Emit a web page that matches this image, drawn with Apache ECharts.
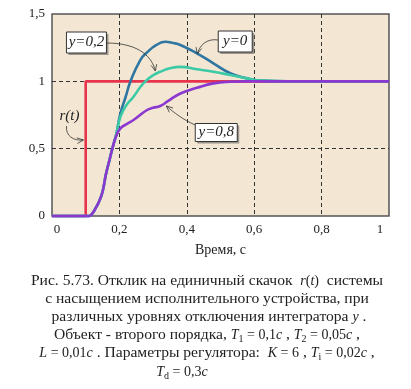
<!DOCTYPE html>
<html><head><meta charset="utf-8">
<script src="https://cdn.jsdelivr.net/npm/echarts@6/dist/echarts.min.js"></script>
<style>html,body{margin:0;padding:0;background:#fff}#c{width:411px;height:389px}</style>
</head><body><div id="c"></div>
<script>
// ---- data ----
const xTicks = [0, 0.2, 0.4, 0.6, 0.8, 1];
const yTicks = [0, 0.5, 1, 1.5];
// reference step r(t)
const rT = [0, 0.1, 0.1, 1];
const rV = [0, 0, 1, 1];
// y = 0
const t0 = [0, 0.11, 0.12, 0.13, 0.14, 0.15, 0.16, 0.17, 0.18, 0.19, 0.203, 0.218, 0.233, 0.262, 0.282, 0.31, 0.336, 0.36, 0.381, 0.43, 0.479, 0.529, 0.578, 0.62, 0.7, 1.0];
const v0 = [0, 0, 0.02, 0.06, 0.11, 0.18, 0.31, 0.41, 0.51, 0.60, 0.762, 0.88, 1.0, 1.158, 1.215, 1.27, 1.294, 1.285, 1.27, 1.208, 1.134, 1.06, 1.022, 1.005, 1.0, 1.0];
// y = 0,2
const t02 = [0, 0.11, 0.12, 0.13, 0.14, 0.15, 0.16, 0.17, 0.18, 0.19, 0.203, 0.22, 0.242, 0.26, 0.277, 0.3, 0.321, 0.35, 0.381, 0.43, 0.479, 0.529, 0.578, 0.62, 0.7, 1.0];
const v02 = [0, 0, 0.02, 0.06, 0.11, 0.18, 0.31, 0.41, 0.51, 0.60, 0.737, 0.82, 0.886, 0.95, 1.0, 1.045, 1.071, 1.097, 1.107, 1.09, 1.071, 1.047, 1.022, 1.005, 1.0, 1.0];
// y = 0,8
const t08 = [0, 0.11, 0.12, 0.13, 0.14, 0.15, 0.16, 0.17, 0.18, 0.19, 0.203, 0.22, 0.242, 0.282, 0.3, 0.321, 0.345, 0.381, 0.43, 0.479, 0.529, 0.578, 0.7, 1.0];
const v08 = [0, 0, 0.02, 0.06, 0.11, 0.18, 0.31, 0.41, 0.51, 0.59, 0.651, 0.68, 0.713, 0.787, 0.803, 0.817, 0.855, 0.91, 0.952, 0.985, 0.997, 1.0, 1.0, 1.0];

const labelY0 = 'y=0', labelY02 = 'y=0,2', labelY08 = 'y=0,8', labelR = 'r(t)';
const xName = 'Время, с';

const zip = (a, b) => a.map((x, i) => [x, b[i]]);
const fmt = v => String(+v.toFixed(2)).replace('.', ',');
const serif = '"Liberation Serif", "DejaVu Serif", serif';

const chart = echarts.init(document.getElementById('c'), null, {renderer: 'canvas'});
const lineSeries = (name, data, color, extra) => Object.assign({
  type: 'line', name, data, symbol: 'none', clip: false,
  smooth: true,
  lineStyle: {color, width: 2.6}, emphasis: {disabled: true}
}, extra || {});

chart.setOption({
  animation: false,
  backgroundColor: '#fff',
  grid: {left: 52, right: 22, top: 14, height: 202, containLabel: false,
    show: true, backgroundColor: '#f3e7d3', borderColor: '#555', borderWidth: 1.5},
  xAxis: {
    type: 'value', min: 0, max: 1, interval: 0.2,
    name: xName, nameLocation: 'middle', nameGap: 27,
    nameTextStyle: {fontFamily: serif, fontSize: 14, color: '#222'},
    axisLine: {show: false}, axisTick: {show: false},
    axisLabel: {margin: 7, fontFamily: serif, fontSize: 13, color: '#222',
      formatter: v => v === 0 ? '{l|0}' : (v === 1 ? '{r|1}' : fmt(v)),
      rich: {l: {fontFamily: serif, fontSize: 13, color: '#222', padding: [0, 0, 0, 10]},
             r: {fontFamily: serif, fontSize: 13, color: '#222', padding: [0, 18, 0, 0]}}},
    splitLine: {show: true, showMinLine: false, showMaxLine: false,
      lineStyle: {type: [4, 3], color: '#333', width: 1}}
  },
  yAxis: {
    type: 'value', min: 0, max: 1.5, interval: 0.5,
    axisLine: {show: false}, axisTick: {show: false},
    axisLabel: {margin: 7, fontFamily: serif, fontSize: 13, color: '#222', formatter: fmt},
    splitLine: {show: true, showMinLine: false, showMaxLine: false,
      lineStyle: {type: [4, 3], color: '#333', width: 1}}
  },
  series: [
    lineSeries('r', zip(rT, rV), '#e8334c', {smooth: false}),
    lineSeries('y0', zip(t0, v0), '#2f76a2'),
    lineSeries('y02', zip(t02, v02), '#3ccaa6'),
    lineSeries('y08', zip(t08, v08), '#8a38cf')
  ]
});

// ---- annotations (data coordinates) ----
const boxes = [
  {text: labelY02, at: [0.1022, 1.2883], w: 40, h: 21},
  {text: labelY0, at: [0.5437, 1.2957], w: 34, h: 21},
  {text: labelY08, at: [0.4874, 0.62], w: 42, h: 18}
];
const arrows = [
  [[0.1615, 1.2846], [0.2622, 1.2846], [0.2978, 1.1732], [0.3067, 1.0767]],
  [[0.4933, 1.3069], [0.4578, 1.3217], [0.4370, 1.2623], [0.4311, 1.2029]],
  [[0.4252, 0.6757], [0.3896, 0.7129], [0.36, 0.7723], [0.3393, 0.8168]],
  [[0.043, 0.6683], [0.04, 0.594], [0.0637, 0.5569], [0.0933, 0.5643]]
];
const P = p => chart.convertToPixel({gridIndex: 0}, p);
const g = [];
boxes.forEach(b => {
  const c = P(b.at);
  const x = c[0] - b.w / 2, y = c[1] - b.h / 2;
  g.push({type: 'rect', shape: {x: x + 2, y: y + 2, width: b.w, height: b.h}, style: {fill: '#9a948c'}, z: 100, silent: true});
  g.push({type: 'rect', shape: {x, y, width: b.w, height: b.h}, style: {fill: '#fff', stroke: '#333', lineWidth: 1}, z: 101, silent: true});
  g.push({type: 'text', x: c[0], y: c[1], style: {text: b.text, fontFamily: serif, fontStyle: 'italic', fontSize: 15, fill: '#222', align: 'center', verticalAlign: 'middle'}, z: 102, silent: true});
});
arrows.forEach(a => {
  const [s, c1, c2, e] = a.map(P);
  const ang = Math.atan2(e[1] - c2[1], e[0] - c2[0]);
  const L = 7, da = 0.42;
  const p1 = [e[0] - L * Math.cos(ang - da), e[1] - L * Math.sin(ang - da)];
  const p2 = [e[0] - L * Math.cos(ang + da), e[1] - L * Math.sin(ang + da)];
  g.push({type: 'bezierCurve', shape: {x1: s[0], y1: s[1], cpx1: c1[0], cpy1: c1[1], cpx2: c2[0], cpy2: c2[1], x2: e[0], y2: e[1]}, style: {stroke: '#333', lineWidth: 0.8, fill: null}, z: 100, silent: true});
  g.push({type: 'polyline', shape: {points: [p1, e, p2]}, style: {stroke: '#333', lineWidth: 0.8, fill: null}, z: 100, silent: true});
});
const rc = P([0.0519, 0.7425]);
g.push({type: 'text', x: rc[0], y: rc[1], style: {text: labelR, fontFamily: serif, fontStyle: 'italic', fontSize: 15, fill: '#222', align: 'center', verticalAlign: 'middle'}, z: 102, silent: true});

// ---- caption ----
const captionLines = [
  'Рис. 5.73. Отклик на единичный скачок  {m|r}{n|(}{m|t}{n|)}  системы',
  'с насыщением исполнительного устройства, при',
  'различных уровнях отключения интегратора {m|y} .',
  'Объект - второго порядка, {m|T}{s|1}{n| = 0,1}{m|c} , {m|T}{s|2}{n| = 0,05}{m|c} ,',
  '{m|L}{n| = 0,01}{m|c} . Параметры регулятора:  {m|K}{n| = 6} , {m|T}{s|i}{n| = 0,02}{m|c} ,',
  '{m|T}{s|d}{n| = 0,3}{m|c}'
];
const capX = [207, 207, 209, 207, 207, 182];
const capY = [281, 299, 317, 335, 353, 372];
const rich = {
  m: {fontFamily: serif, fontStyle: 'italic', fontSize: 14, fill: '#222', lineHeight: 18},
  n: {fontFamily: serif, fontSize: 14, fill: '#222', lineHeight: 18},
  s: {fontFamily: serif, fontSize: 10, fill: '#222', lineHeight: 18, verticalAlign: 'bottom'}
};
captionLines.forEach((t, i) => {
  g.push({type: 'text', x: capX[i], y: capY[i], style: {text: t, rich, fontFamily: serif, fontSize: 15.6, fill: '#222', lineHeight: 18, align: 'center', verticalAlign: 'middle'}, silent: true});
});
chart.setOption({graphic: g});
</script>
</body></html>
